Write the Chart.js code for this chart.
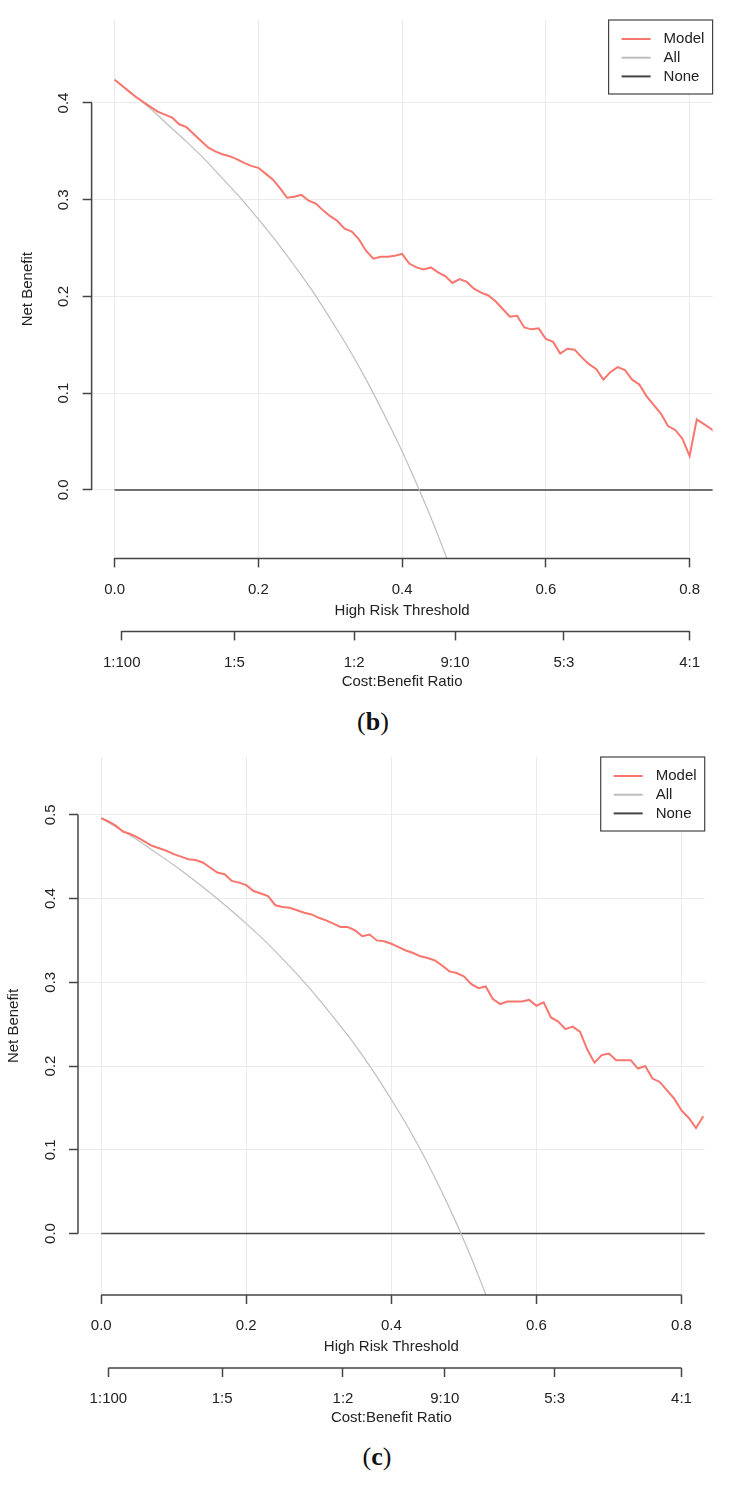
<!DOCTYPE html>
<html>
<head>
<meta charset="utf-8">
<script src="https://cdn.jsdelivr.net/npm/chart.js@4.4.0/dist/chart.umd.min.js"></script>
<style>
  body { margin: 0; background: #fff; width: 729px; height: 1489px; position: relative; overflow: hidden; }
  canvas { position: absolute; left: 0; }
  #chartB { top: 0; }
  #chartC { top: 740px; }
  .cap { position: absolute; width: 100px; text-align: center; font-family: 'Liberation Serif', serif; font-size: 26px; line-height: 30px; color: #111; }
</style>
</head>
<body>
<canvas id="chartB" width="729" height="700"></canvas>
<canvas id="chartC" width="729" height="700"></canvas>
<div class="cap" style="left:323px; top:707px;">(<b>b</b>)</div>
<div class="cap" style="left:327px; top:1442px;">(<b>c</b>)</div>
<script>
// panel (b)
const thresholdsB = [0.00, 0.01, 0.02, 0.03, 0.04, 0.05, 0.06, 0.07, 0.08, 0.09,
    0.10, 0.11, 0.12, 0.13, 0.14, 0.15, 0.16, 0.17, 0.18, 0.19,
    0.20, 0.21, 0.22, 0.23, 0.24, 0.25, 0.26, 0.27, 0.28, 0.29,
    0.30, 0.31, 0.32, 0.33, 0.34, 0.35, 0.36, 0.37, 0.38, 0.39,
    0.40, 0.41, 0.42, 0.43, 0.44, 0.45, 0.46, 0.47, 0.48, 0.49,
    0.50, 0.51, 0.52, 0.53, 0.54, 0.55, 0.56, 0.57, 0.58, 0.59,
    0.60, 0.61, 0.62, 0.63, 0.64, 0.65, 0.66, 0.67, 0.68, 0.69,
    0.70, 0.71, 0.72, 0.73, 0.74, 0.75, 0.76, 0.77, 0.78, 0.79,
    0.80, 0.81, 0.82, 0.83, 0.84];
const modelB = [0.424, 0.418, 0.412, 0.406, 0.401, 0.396, 0.391, 0.388, 0.385, 0.378,
    0.375, 0.368, 0.361, 0.354, 0.350, 0.347, 0.345, 0.342, 0.338, 0.335,
    0.333, 0.327, 0.321, 0.312, 0.302, 0.303, 0.305, 0.299, 0.296, 0.289,
    0.283, 0.278, 0.270, 0.267, 0.259, 0.247, 0.239, 0.241, 0.241, 0.242,
    0.244, 0.234, 0.230, 0.228, 0.230, 0.225, 0.221, 0.214, 0.218, 0.215,
    0.208, 0.204, 0.201, 0.195, 0.187, 0.179, 0.180, 0.168, 0.166, 0.167,
    0.156, 0.153, 0.141, 0.146, 0.145, 0.137, 0.130, 0.125, 0.114, 0.122,
    0.127, 0.124, 0.114, 0.109, 0.097, 0.088, 0.079, 0.066, 0.062, 0.053,
    0.035, 0.073, 0.068, 0.063, 0.057];
const allThresholdsB = [0, 0.025, 0.05, 0.075, 0.1, 0.125, 0.15, 0.175, 0.2, 0.225, 0.25,
    0.275, 0.3, 0.325, 0.35, 0.375, 0.4, 0.425, 0.45, 0.475, 0.5];
const allB = [0.424, 0.409, 0.394, 0.377, 0.360, 0.342, 0.322, 0.302, 0.280, 0.257, 0.232,
    0.206, 0.177, 0.147, 0.114, 0.078, 0.040, -0.002, -0.047, -0.097, -0.152];

// panel (c)
const thresholdsC = [0.00, 0.01, 0.02, 0.03, 0.04, 0.05, 0.06, 0.07, 0.08, 0.09,
    0.10, 0.11, 0.12, 0.13, 0.14, 0.15, 0.16, 0.17, 0.18, 0.19,
    0.20, 0.21, 0.22, 0.23, 0.24, 0.25, 0.26, 0.27, 0.28, 0.29,
    0.30, 0.31, 0.32, 0.33, 0.34, 0.35, 0.36, 0.37, 0.38, 0.39,
    0.40, 0.41, 0.42, 0.43, 0.44, 0.45, 0.46, 0.47, 0.48, 0.49,
    0.50, 0.51, 0.52, 0.53, 0.54, 0.55, 0.56, 0.57, 0.58, 0.59,
    0.60, 0.61, 0.62, 0.63, 0.64, 0.65, 0.66, 0.67, 0.68, 0.69,
    0.70, 0.71, 0.72, 0.73, 0.74, 0.75, 0.76, 0.77, 0.78, 0.79,
    0.80, 0.81, 0.82, 0.83];
const modelC = [0.496, 0.492, 0.487, 0.480, 0.477, 0.473, 0.468, 0.463, 0.460, 0.457,
    0.453, 0.450, 0.447, 0.446, 0.443, 0.437, 0.431, 0.429, 0.421, 0.419,
    0.416, 0.409, 0.406, 0.403, 0.392, 0.390, 0.389, 0.386, 0.383, 0.381,
    0.377, 0.374, 0.370, 0.366, 0.366, 0.362, 0.355, 0.357, 0.350, 0.349,
    0.346, 0.342, 0.338, 0.335, 0.331, 0.329, 0.326, 0.320, 0.313, 0.311,
    0.307, 0.298, 0.293, 0.295, 0.280, 0.274, 0.277, 0.277, 0.277, 0.279,
    0.272, 0.276, 0.258, 0.253, 0.244, 0.247, 0.241, 0.220, 0.204, 0.213,
    0.215, 0.207, 0.207, 0.207, 0.197, 0.200, 0.185, 0.181, 0.171, 0.161,
    0.147, 0.138, 0.126, 0.140];
const allThresholdsC = [0, 0.025, 0.05, 0.075, 0.1, 0.125, 0.15, 0.175, 0.2, 0.225, 0.25,
    0.275, 0.3, 0.325, 0.35, 0.375, 0.4, 0.425, 0.45, 0.475, 0.5, 0.525, 0.55];
const allC = [0.496, 0.483, 0.470, 0.455, 0.440, 0.424, 0.407, 0.389, 0.370, 0.350, 0.328,
    0.305, 0.280, 0.253, 0.225, 0.194, 0.160, 0.124, 0.084, 0.040, -0.008, -0.061, -0.120];

const noneThresholds = [0, 0.84];
const noneValues = [0, 0];

const xTicks = [0, 0.2, 0.4, 0.6, 0.8];
const yTicksB = [0, 0.1, 0.2, 0.3, 0.4];
const yTicksC = [0, 0.1, 0.2, 0.3, 0.4, 0.5];
const costTicks = [0.0099, 0.1667, 0.3333, 0.4737, 0.625, 0.8];
const costLabels = ['1:100', '1:5', '1:2', '9:10', '5:3', '4:1'];

Chart.defaults.font.family = "'Liberation Sans', Arial, sans-serif";
Chart.defaults.font.size = 15;
Chart.defaults.color = '#222';

const toPoints = (xs, ys) => xs.map((x, i) => ({x: x, y: ys[i]}));

// base R draws the axis line only from the first to the last tick
const axisLines = {
    id: 'axisLines',
    afterDraw(chart) {
        const ctx = chart.ctx;
        ctx.save();
        ctx.strokeStyle = '#444';
        ctx.lineWidth = 1.5;
        ['x', 'x2'].forEach(id => {
            const s = chart.scales[id];
            const t = s.ticks;
            ctx.beginPath();
            ctx.moveTo(s.getPixelForValue(t[0].value), s.top);
            ctx.lineTo(s.getPixelForValue(t[t.length - 1].value), s.top);
            ctx.stroke();
        });
        const y = chart.scales.y;
        ctx.beginPath();
        ctx.moveTo(y.right, y.getPixelForValue(y.ticks[0].value));
        ctx.lineTo(y.right, y.getPixelForValue(y.ticks[y.ticks.length - 1].value));
        ctx.stroke();
        ctx.restore();
    }
};

// boxed legend in the top right corner of the plot
const boxLegend = {
    id: 'boxLegend',
    afterDraw(chart) {
        const {ctx, chartArea} = chart;
        const w = 104, h = 74;
        const left = chartArea.right - w, top = chartArea.top;
        ctx.save();
        ctx.fillStyle = '#fff';
        ctx.fillRect(left, top, w, h);
        ctx.strokeStyle = '#444';
        ctx.lineWidth = 1.2;
        ctx.strokeRect(left, top, w, h);
        ctx.font = "15px 'Liberation Sans', Arial, sans-serif";
        ctx.textBaseline = 'middle';
        chart.data.datasets.forEach((ds, i) => {
            const yy = top + 19 + i * 18.7;
            ctx.strokeStyle = ds.borderColor;
            ctx.lineWidth = 2;
            ctx.beginPath();
            ctx.moveTo(left + 13, yy);
            ctx.lineTo(left + 42, yy);
            ctx.stroke();
            ctx.fillStyle = '#222';
            ctx.fillText(ds.label, left + 55, yy);
        });
        ctx.restore();
    }
};

function makeChart(id, o) {
    return new Chart(document.getElementById(id), {
        type: 'line',
        data: {
            datasets: [{
                label: 'Model',
                data: toPoints(o.thresholds, o.model),
                borderColor: '#f8766d',
                borderWidth: 2
            }, {
                label: 'All',
                data: toPoints(o.allThresholds, o.all),
                borderColor: '#bebebe',
                borderWidth: 1.2,
                cubicInterpolationMode: 'monotone'
            }, {
                label: 'None',
                data: toPoints(noneThresholds, noneValues),
                borderColor: '#444',
                borderWidth: 1.5
            }]
        },
        options: {
            responsive: false,
            animation: false,
            elements: { point: { radius: 0 }, line: { tension: 0 } },
            layout: { padding: o.padding },
            plugins: { legend: { display: false }, tooltip: { enabled: false } },
            scales: {
                x: {
                    type: 'linear', position: 'bottom', min: -0.032, max: 0.832,
                    afterBuildTicks: s => { s.ticks = xTicks.map(v => ({value: v})); },
                    ticks: { autoSkip: false, maxRotation: 0, padding: 13, callback: v => v.toFixed(1) },
                    grid: { color: '#ebebeb', lineWidth: 1, tickColor: '#444', tickWidth: 1.5, tickLength: 9 },
                    border: { display: false },
                    title: { display: true, text: 'High Risk Threshold', padding: { top: -10, bottom: 12 } }
                },
                x2: {
                    type: 'linear', position: 'bottom', min: -0.032, max: 0.832,
                    afterBuildTicks: s => { s.ticks = costTicks.map(v => ({value: v})); },
                    ticks: { autoSkip: false, maxRotation: 0, padding: 13, callback: (v, i) => costLabels[i] },
                    grid: { drawOnChartArea: false, tickColor: '#444', tickWidth: 1.5, tickLength: 9 },
                    border: { display: false },
                    title: { display: true, text: 'Cost:Benefit Ratio', padding: { top: -11.7, bottom: 0 } }
                },
                y: {
                    type: 'linear', min: o.yMin, max: o.yMax,
                    afterBuildTicks: s => { s.ticks = o.yTicks.map(v => ({value: v})); },
                    afterFit: s => { s.width = o.yWidth; },
                    ticks: { minRotation: 90, maxRotation: 90, crossAlign: 'center', padding: 8,
                             callback: v => v.toFixed(1) },
                    grid: { color: '#ebebeb', lineWidth: 1, tickColor: '#444', tickWidth: 1.5, tickLength: 9 },
                    border: { display: false },
                    title: { display: true, text: 'Net Benefit', padding: { top: o.yTitlePad, bottom: 0 } }
                }
            }
        },
        plugins: [axisLines, boxLegend]
    });
}

makeChart('chartB', {
    thresholds: thresholdsB, model: modelB, allThresholds: allThresholdsB, all: allB,
    yMin: -0.0708, yMax: 0.4858, yTicks: yTicksB, yWidth: 91.6, yTitlePad: 19,
    padding: { left: 0, right: 16.4, top: 20, bottom: 9.3 }
});
makeChart('chartC', {
    thresholds: thresholdsC, model: modelC, allThresholds: allThresholdsC, all: allC,
    yMin: -0.0734, yMax: 0.569, yTicks: yTicksC, yWidth: 78, yTitlePad: 5,
    padding: { left: 0, right: 24.3, top: 11.7, bottom: 12.7 }
});
</script>
</body>
</html>
